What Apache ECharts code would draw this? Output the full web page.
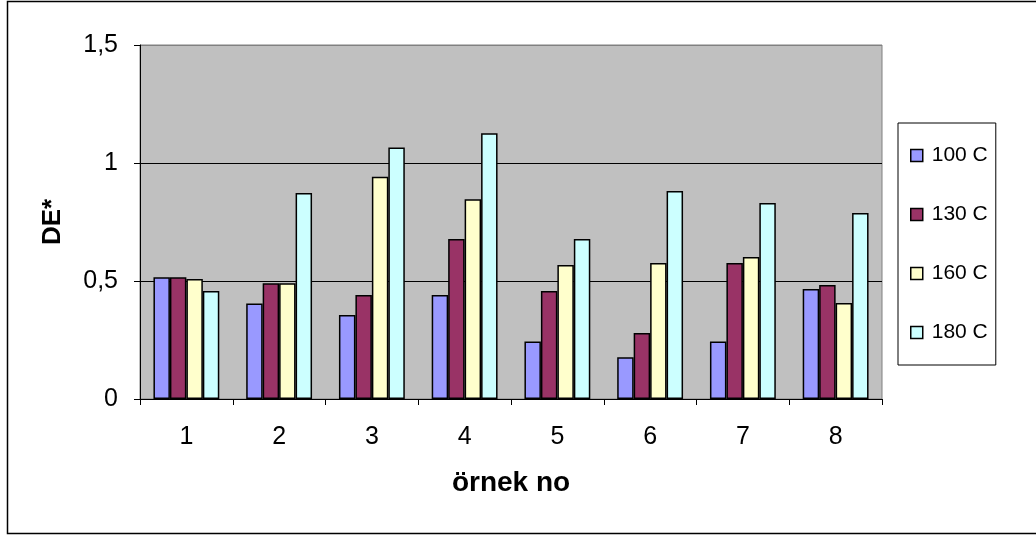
<!DOCTYPE html>
<html>
<head>
<meta charset="utf-8">
<script src="https://cdn.jsdelivr.net/npm/echarts@6/dist/echarts.min.js"></script>
<style>
  html, body { margin: 0; padding: 0; background: #fff; }
  #chart { width: 1036px; height: 536px; }
</style>
</head>
<body>
<div id="chart"></div>
<script>
// örnek no
const categories = ["1", "2", "3", "4", "5", "6", "7", "8"];
const seriesNames = ["100 C", "130 C", "160 C", "180 C"];
const colors = ["#9999FF", "#993366", "#FFFFCC", "#CCFFFF"];

// DE* values per temperature
const v100 = [0.516, 0.405, 0.356, 0.441, 0.244, 0.177, 0.244, 0.466];
const v130 = [0.516, 0.490, 0.441, 0.678, 0.458, 0.280, 0.576, 0.483];
const v160 = [0.508, 0.490, 0.942, 0.846, 0.568, 0.576, 0.602, 0.407];
const v180 = [0.458, 0.873, 1.066, 1.126, 0.678, 0.881, 0.830, 0.788];
const allValues = [v100, v130, v160, v180];

const font = "Liberation Sans, Arial, sans-serif";

const chart = echarts.init(document.getElementById("chart"), null, { renderer: "canvas" });

const option = {
    backgroundColor: "#ffffff",
    animation: false,
    textStyle: { fontFamily: font },

    graphic: [
        {
            type: "rect",
            shape: { x: 7.5, y: 1.5, width: 1040, height: 532 },
            style: { fill: "none", stroke: "#000", lineWidth: 1.5 },
            silent: true,
        },
    ],

    grid: {
        left: 140,
        right: 154,
        top: 45,
        bottom: 137,
        show: true,
        backgroundColor: "#C0C0C0",
        borderColor: "#808080",
        borderWidth: 1,
    },

    legend: {
        orient: "vertical",
        left: 898,
        top: 123,
        padding: [22, 8, 22, 12],
        itemGap: 38,
        itemWidth: 12,
        itemHeight: 12,
        icon: "rect",
        backgroundColor: "#ffffff",
        borderColor: "#000",
        borderWidth: 1,
        itemStyle: { borderColor: "#000", borderWidth: 1.5 },
        textStyle: { fontFamily: font, fontSize: 21, color: "#000", lineHeight: 18, padding: [0, 0, 0, 4] },
        data: seriesNames,
    },

    xAxis: {
        type: "category",
        data: categories,
        name: "örnek no",
        nameLocation: "middle",
        nameGap: 70,
        nameTextStyle: { fontFamily: font, fontSize: 28, fontWeight: "bold", color: "#000" },
        axisLine: { lineStyle: { color: "#000", width: 1 } },
        axisTick: { show: true, length: 6, lineStyle: { color: "#000" } },
        axisLabel: { fontFamily: font, fontSize: 25, color: "#000", margin: 26 },
    },

    yAxis: {
        type: "value",
        min: 0,
        max: 1.5,
        interval: 0.5,
        name: "DE*",
        nameLocation: "middle",
        nameGap: 74,
        nameTextStyle: { fontFamily: font, fontSize: 26, fontWeight: "bold", color: "#000" },
        axisLine: { show: true, lineStyle: { color: "#000", width: 1 } },
        axisTick: { show: true, length: 6, lineStyle: { color: "#000" } },
        axisLabel: {
            fontFamily: font,
            fontSize: 25,
            color: "#000",
            margin: 22,
            formatter: (v) => String(v).replace(".", ","),
        },
        splitLine: { show: true, lineStyle: { color: ["#000", "#000", "#000", "#808080"], width: 1 } },
    },

    series: seriesNames.map((name, i) => ({
        name,
        type: "bar",
        data: allValues[i],
        barGap: "0%",
        barCategoryGap: "29%",
        itemStyle: { color: colors[i], borderColor: "#000", borderWidth: 1.5 },
    })),
};

chart.setOption(option);
</script>
</body>
</html>
